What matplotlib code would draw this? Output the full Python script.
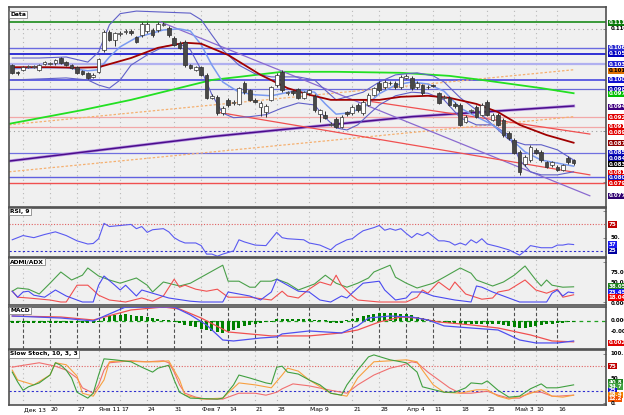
import numpy as np
import matplotlib.pyplot as plt
from matplotlib import transforms

# ---------------- data (bar index = trading day) ----------------
tick_pos = [2, 7, 12, 16, 20, 25, 30, 35, 40, 45, 49, 55, 63, 68, 73, 78, 83, 88, 93, 97, 101]
tick_lab = ["Дек 13", "20", "27", "Янв 11", "17", "24", "31", "Фев 7", "14", "21", "28",
            "Мар 9", "21", "28", "Апр 4", "11", "18", "25", "Май 3", "10", "16"]

opens = [0.1029, 0.1016, 0.1020, 0.1025, 0.1025, 0.1020, 0.1031, 0.1031, 0.1033, 0.1043,
         0.1035, 0.1029, 0.1025, 0.1018, 0.1014, 0.1006, 0.1016, 0.1059, 0.1094, 0.1079,
         0.1090, 0.1094, 0.1096, 0.1084, 0.1088, 0.1096, 0.1098, 0.1098, 0.1108, 0.1102,
         0.1083, 0.1073, 0.1075, 0.1029, 0.1020, 0.1025, 0.1010, 0.0965, 0.0967, 0.0935,
         0.0961, 0.0955, 0.0953, 0.0994, 0.0980, 0.0961, 0.0947, 0.0937, 0.0961, 0.0990,
         0.1016, 0.0974, 0.0978, 0.0982, 0.0965, 0.0974, 0.0969, 0.0933, 0.0932, 0.0912,
         0.0924, 0.0908, 0.0937, 0.0935, 0.0951, 0.0935, 0.0951, 0.0971, 0.0994, 0.0986,
         0.0994, 0.0994, 0.0986, 0.1004, 0.1004, 0.0986, 0.0990, 0.0986, 0.0990, 0.0974,
         0.0965, 0.0965, 0.0953, 0.0951, 0.0918, 0.0939, 0.0947, 0.0932, 0.0957, 0.0922,
         0.0932, 0.0922, 0.0896, 0.0883, 0.0859, 0.0835, 0.0843, 0.0863, 0.0859, 0.0839,
         0.0833, 0.0830, 0.0824, 0.0847, 0.0843]
closes = [0.1014, 0.1014, 0.1025, 0.1027, 0.1027, 0.1029, 0.1035, 0.1033, 0.1039, 0.1033,
          0.1029, 0.1024, 0.1014, 0.1012, 0.1004, 0.1010, 0.1041, 0.1094, 0.1079, 0.1092,
          0.1092, 0.1095, 0.1092, 0.1075, 0.1110, 0.1110, 0.1088, 0.1110, 0.1110, 0.1088,
          0.1069, 0.1063, 0.1029, 0.1024, 0.1025, 0.1010, 0.0965, 0.0969, 0.0935, 0.0945,
          0.0951, 0.0957, 0.0984, 0.0976, 0.0961, 0.0957, 0.0955, 0.0949, 0.0986, 0.1010,
          0.0980, 0.0976, 0.0974, 0.0965, 0.0976, 0.0980, 0.0941, 0.0941, 0.0926, 0.0914,
          0.0908, 0.0928, 0.0933, 0.0947, 0.0941, 0.0957, 0.0971, 0.0984, 0.0980, 0.0996,
          0.0995, 0.0986, 0.1006, 0.1008, 0.0984, 0.0994, 0.0974, 0.0987, 0.0989, 0.0955,
          0.0967, 0.0951, 0.0949, 0.0912, 0.0928, 0.0941, 0.0928, 0.0951, 0.0932, 0.0932,
          0.0912, 0.0892, 0.0886, 0.0857, 0.0820, 0.0849, 0.0869, 0.0857, 0.0843, 0.0830,
          0.0839, 0.0824, 0.0833, 0.0839, 0.0837]
# wick lengths in 0.0001
wick_up = [2, 2, 2, 2, 2, 3, 2, 2, 3, 2, 2, 2, 2, 2, 2, 3, 3, 4, 3, 2,
           3, 5, 3, 3, 4, 3, 3, 4, 3, 3, 3, 3, 3, 3, 2, 2, 3, 3, 3, 4,
           4, 4, 3, 3, 3, 3, 3, 3, 3, 4, 3, 3, 3, 3, 3, 3, 4, 3, 8, 3,
           3, 3, 3, 4, 3, 3, 3, 3, 3, 3, 3, 3, 3, 3, 3, 3, 3, 3, 3, 3,
           3, 3, 3, 3, 3, 3, 3, 3, 3, 3, 3, 3, 3, 3, 3, 3, 3, 3, 3, 3,
           3, 3, 3, 3, 3]
wick_dn = [2, 4, 2, 2, 2, 3, 2, 2, 3, 2, 2, 2, 2, 2, 2, 3, 3, 4, 3, 12,
           3, 4, 3, 3, 4, 3, 3, 4, 3, 3, 3, 3, 3, 3, 2, 2, 3, 3, 3, 4,
           4, 4, 3, 3, 3, 3, 18, 10, 3, 4, 3, 3, 3, 3, 3, 3, 4, 16, 3, 3,
           3, 3, 3, 4, 3, 3, 3, 3, 3, 3, 3, 3, 3, 3, 3, 3, 3, 3, 3, 3,
           3, 3, 3, 3, 3, 3, 3, 3, 3, 3, 3, 3, 3, 3, 6, 3, 3, 3, 3, 3,
           3, 3, 3, 3, 3]

bb_up_x = [0, 5, 10, 14, 16, 18, 20, 23, 28, 33, 35, 37, 39, 42, 45, 48, 53, 56, 58, 60,
           62, 65, 68, 71, 75, 78, 80, 83, 86, 89, 92, 95, 98, 101, 104]
bb_up = [0.1043, 0.1043, 0.1045, 0.1035, 0.1055, 0.1108, 0.1130, 0.1135, 0.1133, 0.1131,
         0.1118, 0.1088, 0.1059, 0.1029, 0.1012, 0.1006, 0.1006, 0.1000, 0.0980, 0.0961,
         0.0967, 0.0976, 0.0996, 0.1010, 0.1014, 0.1008, 0.0996, 0.0965, 0.0941, 0.0912,
         0.0883, 0.0873, 0.0873, 0.0863, 0.0843]
bb_lo_x = [0, 5, 10, 14, 16, 18, 20, 22, 25, 28, 31, 33, 35, 37, 39, 41, 44, 47, 50, 53,
           56, 58, 60, 62, 64, 66, 68, 71, 74, 77, 80, 83, 86, 89, 92, 94, 96, 98, 101, 104]
bb_lo = [0.1000, 0.1002, 0.1004, 0.1000, 0.0990, 0.0984, 0.1000, 0.1029, 0.1049, 0.1065,
         0.1071, 0.1059, 0.1020, 0.0971, 0.0935, 0.0926, 0.0928, 0.0932, 0.0945, 0.0955,
         0.0951, 0.0926, 0.0906, 0.0902, 0.0912, 0.0932, 0.0951, 0.0969, 0.0976, 0.0974,
         0.0961, 0.0926, 0.0912, 0.0912, 0.0892, 0.0843, 0.0820, 0.0814, 0.0814, 0.0820]
bb_mid_x = [0, 5, 10, 14, 16, 18, 20, 23, 28, 31, 33, 35, 37, 39, 42, 45, 48, 53, 56, 58,
            60, 62, 65, 68, 71, 74, 77, 80, 83, 86, 89, 92, 95, 98, 101, 104]
bb_mid = [0.1022, 0.1024, 0.1024, 0.1018, 0.1020, 0.1045, 0.1065, 0.1083, 0.1098, 0.1100,
          0.1096, 0.1069, 0.1029, 0.0996, 0.0976, 0.0971, 0.0969, 0.0980, 0.0976, 0.0953,
          0.0933, 0.0935, 0.0945, 0.0973, 0.0990, 0.0996, 0.0992, 0.0978, 0.0945, 0.0928,
          0.0912, 0.0888, 0.0859, 0.0843, 0.0837, 0.0831]

ma_red_x = [0, 7, 12, 16, 22, 27, 32, 35, 40, 46, 51, 55, 59, 64, 68, 72, 77, 81, 86, 90, 94, 99, 104]
ma_red = [0.1025, 0.1025, 0.1024, 0.1025, 0.1043, 0.1063, 0.1073, 0.1071, 0.1049, 0.1010,
          0.0984, 0.0971, 0.0961, 0.0961, 0.0961, 0.0967, 0.0969, 0.0965, 0.0953, 0.0937,
          0.0912, 0.0892, 0.0877]
ma_green_x = [-0.6, 13, 22, 37, 42, 50, 60, 72, 81, 87, 98, 104]
ma_green = [0.0914, 0.0941, 0.0961, 0.1000, 0.1006, 0.1016, 0.1016, 0.1014, 0.1008, 0.1000, 0.0984, 0.0974]
ma_purple_x = [-0.6, 37, 74, 104]
ma_purple = [0.0841, 0.0889, 0.0928, 0.0949]

fibo_x = [-0.6, 104]
orange_a = [0.0912, 0.1020]
orange_b = [0.0820, 0.0928]
purple_tl_x = [27.4, 107]
purple_tl = [0.1114, 0.0773]
red_tl1_x = [38.5, 107]
red_tl1 = [0.0936, 0.0814]
red_tl2_x = [64.4, 107]
red_tl2 = [0.0961, 0.0894]

hlines = [(0.1114, "#1a8a1a", 1.2), (0.1063, "#6a6ae0", 1.0), (0.1051, "#1010d0", 1.2),
          (0.1031, "#b0b0f0", 1.6), (0.1000, "#4848e0", 1.2), (0.0982, "#6a6ad8", 0.9),
          (0.0928, "#f2a8a8", 0.9), (0.0908, "#f2a8a8", 0.9), (0.0857, "#7070e0", 0.9),
          (0.0810, "#6060e0", 1.0), (0.0798, "#f05050", 1.0)]
price_tags = [(0.1112, "0.111", "#0a7a0a", "white"), (0.1063, "0.106", "#2a2ad0", "white"),
              (0.1051, "0.105", "#0000c0", "white"), (0.1031, "0.103", "#2020d0", "white"),
              (0.1018, "0.101", "#e07000", "black"), (0.1000, "0.100", "#1010d0", "white"),
              (0.0982, "0.098", "#0000b0", "white"), (0.0973, "0.097", "#00c000", "white"),
              (0.0947, "0.094", "#400080", "white"), (0.0927, "0.092", "#e00000", "white"),
              (0.0908, "0.091", "#e00000", "white"), (0.0898, "0.089", "#e00000", "white"),
              (0.0876, "0.087", "#900000", "white"), (0.0857, "0.085", "#1010c0", "white"),
              (0.0847, "0.084", "#0000a0", "white"), (0.0835, "0.083", "#000000", "white"),
              (0.0818, "0.081", "#e00000", "white"), (0.0808, "0.080", "#1010c0", "white"),
              (0.0798, "0.079", "#e00000", "white"), (0.0773, "0.077", "#300070", "white")]

rsi_x = [0, 2, 4, 6, 8, 10, 12, 14, 15, 16, 17, 18, 20, 22, 23, 24, 25, 26, 28, 29,
         30, 31, 32, 34, 35, 36, 37, 38, 39, 41, 42, 43, 45, 47, 49, 50, 51, 54, 55, 57,
         59, 60, 62, 63, 64, 65, 67, 68, 69, 70, 71, 72, 73, 74, 75, 76, 77, 79, 80, 81,
         82, 83, 84, 85, 86, 87, 88, 90, 92, 94, 95, 96, 98, 100, 101, 102, 103, 104]
rsi = [46, 54, 50, 56, 61, 54, 44, 38, 39, 48, 77, 71, 73, 75, 67, 71, 60, 65, 67, 61,
       50, 44, 40, 40, 35, 19, 19, 15, 19, 25, 46, 42, 36, 35, 60, 50, 48, 46, 40, 36,
       27, 36, 46, 48, 56, 63, 69, 73, 64, 67, 64, 67, 58, 50, 58, 54, 60, 44, 44, 42,
       36, 40, 36, 46, 40, 48, 38, 33, 27, 17, 25, 35, 31, 31, 36, 36, 38, 37]

adx_g_x = [0, 1, 3, 5, 7, 9, 11, 13, 14, 16, 18, 20, 23, 25, 26, 28, 31, 33, 35, 37, 39,
           40, 42, 44, 45, 46, 48, 49, 51, 53, 54, 56, 58, 60, 62, 64, 66, 67, 70, 71, 73,
           75, 78, 80, 83, 85, 86, 89, 91, 93, 95, 97, 98, 99, 100, 102, 104]
adx_g = [27, 35, 32, 20, 47, 75, 55, 67, 85, 65, 55, 47, 60, 42, 25, 50, 40, 47, 62, 77, 92,
         52, 52, 37, 37, 52, 52, 57, 47, 30, 35, 45, 67, 47, 37, 47, 60, 75, 92, 62, 47,
         35, 47, 62, 85, 72, 55, 40, 50, 67, 90, 55, 40, 55, 42, 37, 38]
adx_b_x = [0, 1, 2, 3, 4, 6, 8, 10, 13, 15, 16, 17, 19, 20, 21, 23, 24, 26, 29, 33, 35,
           39, 40, 44, 46, 48, 49, 51, 53, 55, 57, 59, 61, 62, 64, 65, 68, 69, 71, 73, 74,
           76, 78, 82, 85, 86, 87, 89, 91, 94, 99, 100, 101, 102, 103, 104]
adx_b = [27, 12, 25, 27, 17, 12, 30, 15, 0, 0, 42, 65, 42, 30, 42, 15, 30, 22, 10, 2, 0,
         0, 25, 15, 5, 25, 57, 42, 27, 25, 5, 0, 15, 10, 35, 47, 52, 30, 5, 10, 25,
         25, 15, 5, 0, 40, 37, 25, 15, 0, 0, 22, 30, 15, 25, 23]
adx_r_x = [0, 1, 3, 7, 9, 10, 12, 14, 15, 16, 18, 21, 24, 26, 28, 30, 31, 32, 34, 36,
           38, 40, 44, 48, 50, 51, 53, 55, 57, 59, 60, 61, 63, 64, 68, 73, 75, 76, 77, 79,
           81, 82, 84, 87, 89, 90, 92, 95, 97, 99, 101, 102, 104]
adx_r = [27, 12, 10, 5, 0, 0, 42, 42, 30, 17, 5, 0, 10, 2, 15, 57, 37, 42, 32, 27,
         32, 12, 12, 5, 27, 15, 10, 32, 50, 42, 67, 42, 15, 5, 0, 0, 12, 30, 22, 50,
         30, 50, 20, 7, 10, 25, 30, 55, 30, 22, 32, 12, 18]

macd_x = [0, 9, 15, 18, 21, 30, 33, 36, 39, 41, 46, 49, 50, 55, 61, 64, 66, 70, 74, 77,
          80, 85, 90, 92, 94, 97, 101, 104]
macd = [0.00045, 0.00027, 0.0, 0.00064, 0.00127, 0.00127, 0.00055, -0.00036, -0.00173,
        -0.00182, -0.00155, -0.00145, -0.00118, -0.00091, -0.00109, -0.00045, 0.00027,
        0.00045, 0.00036, 0.00009, -0.00045, -0.00064, -0.00082, -0.00127, -0.00173,
        -0.002, -0.002, -0.00182]
signal_x = [0, 9, 15, 22, 28, 31, 35, 40, 48, 55, 61, 64, 68, 72, 75, 79, 85, 90, 96, 100, 104]
signal = [0.00045, 0.00036, 0.00009, 0.001, 0.00127, 0.00109, 0.00027, -0.001, -0.00136,
          -0.00136, -0.00109, -0.00082, -0.00009, 0.00036, 0.00027, -0.00009, -0.00036,
          -0.00064, -0.00127, -0.00182, -0.0019]
hist = [-2, -2, -2, -2, -2, -2, -2, -2, -2, -2, -2, -2, -2, -2, -2, -2, -1, 2.7, 4.5, 5,
        5.5, 6.4, 5.5, 4.5, 4.5, 3.6, 2.7, 1.8, 1, 0.5, -0.5, -2, -3.6, -4.5, -5.5, -7.3, -8.2, -9, -10, -10.9,
        -9, -8.2, -6.4, -4.5, -3.6, -2.7, -2, -1, -1, 2, 2, 2, 2, 2, 2, 2, 0.5, 0.5, 0.5, -2,
        -2, -2, 1, 2, 2.7, 4.5, 5.5, 6.4, 7.3, 7.3, 7.3, 7.3, 6.4, 6.4, 5.5, 3.6, 2.7, 1.8, 1, -1,
        -2, -2, -2.7, -2.7, -2.7, -2.7, -2.7, -2.7, -2.7, -2.7, -2.7, -3.6, -4.5, -5.5, -6.4, -6.4, -5.5, -4.5, -3.6, -2.7,
        -2.7, -2, -2, -1, -1]  # in 0.0001

st_g_x = [0, 1, 2, 3, 5, 7, 8, 9, 10, 11, 12, 14, 15, 16, 17, 19, 22, 24, 26, 27, 29, 30,
          31, 33, 38, 39, 41, 42, 44, 47, 48, 49, 50, 51, 53, 55, 57, 59, 61, 62, 64, 66,
          67, 70, 72, 73, 75, 76, 80, 82, 84, 85, 87, 88, 90, 92, 94, 96, 98, 99, 101, 102, 104]
st_g = [63, 43, 26, 33, 41, 57, 82, 77, 67, 51, 22, 10, 20, 57, 90, 88, 84, 73, 63, 71, 77, 47,
        22, 10, 8, 10, 37, 57, 51, 41, 39, 73, 75, 63, 59, 47, 37, 20, 16, 37, 67, 94,
        98, 88, 84, 82, 63, 33, 22, 22, 31, 41, 39, 45, 26, 12, 14, 29, 39, 31, 31, 33, 37]
st_o_x = [0, 1, 4, 7, 8, 10, 12, 13, 15, 17, 18, 20, 24, 27, 29, 31, 32, 35, 39, 42, 45,
          48, 50, 51, 53, 55, 59, 62, 64, 67, 70, 73, 75, 76, 78, 80, 83, 86, 88, 90, 92,
          95, 98, 100, 102, 104]
st_o = [67, 47, 37, 57, 82, 78, 55, 20, 14, 47, 84, 86, 84, 84, 86, 47, 16, 8, 10, 41, 37,
        31, 57, 71, 65, 47, 20, 14, 51, 84, 86, 88, 84, 67, 37, 22, 20, 27, 27, 14, 8,
        16, 27, 14, 12, 16]
st_r_x = [0, 1, 5, 8, 10, 12, 13, 15, 16, 17, 18, 22, 25, 28, 29, 30, 31, 32, 34, 36, 39,
          42, 45, 47, 49, 50, 52, 55, 59, 62, 64, 67, 70, 72, 74, 75, 77, 79, 81, 83, 85,
          88, 90, 92, 94, 96, 98, 100, 101, 104]
st_r = [73, 75, 82, 75, 67, 51, 31, 20, 37, 67, 82, 86, 84, 86, 82, 63, 37, 20, 12, 8, 8,
        20, 20, 16, 22, 29, 39, 35, 26, 20, 37, 57, 71, 76, 84, 82, 63, 47, 31, 20, 20,
        24, 16, 10, 10, 22, 22, 14, 14, 16]

# ---------------- figure ----------------
fig = plt.figure(figsize=(6.24, 4.15), dpi=100)
fig.patch.set_facecolor("white")
L, R = 9 / 624, 597 / 624
H = 415.0
panels = [(7, 207), (208, 257), (258, 305), (307, 349), (350, 405)]
axes = []
for top, bot in panels:
    ax = fig.add_axes([L, 1 - bot / H, R, (bot - top) / H])
    ax.set_facecolor("#f0f0f0")
    ax.set_xlim(-0.6, 110)
    for s in ax.spines.values():
        s.set_color("#505050")
        s.set_linewidth(1.2)
    ax.tick_params(left=False, labelleft=False, bottom=False, labelbottom=False,
                   right=True, labelright=False, direction="in", length=2, width=0.5,
                   colors="#606060")
    ax.set_xticks(tick_pos)
    ax.grid(axis="x", color="#b8b8b8", linestyle=(0, (1, 3)), linewidth=0.8)
    axes.append(ax)
ax0, ax1, ax2, ax3, ax4 = axes

tr_r = lambda ax: transforms.blended_transform_factory(ax.transAxes, ax.transData)


def tag(ax, v, txt, fc, tc="white"):
    ax.text(1.004, v, txt, transform=tr_r(ax), fontsize=4.0, color=tc, va="center",
            ha="left", fontweight="bold", clip_on=False,
            bbox=dict(boxstyle="square,pad=0.12", fc=fc, ec="none"))


def plain(ax, v, txt):
    ax.text(1.008, v, txt, transform=tr_r(ax), fontsize=4.0, color="black", va="center",
            ha="left", fontweight="bold", clip_on=False)


def title(ax, txt):
    ax.text(0.002, 0.975, txt, transform=ax.transAxes, fontsize=4.3, fontweight="bold",
            va="top", ha="left",
            bbox=dict(boxstyle="square,pad=0.2", fc="white", ec="#707070", lw=0.5))


# ---- main price panel
ax0.set_ylim(0.0751, 0.1143)
for v in [0.110, 0.090]:
    ax0.axhline(v, color="#a0a0a0", linestyle=(0, (1, 3)), lw=0.8)
for v, col, lw in hlines:
    ax0.axhline(v, color=col, lw=lw)
ax0.plot(fibo_x, orange_a, color="#f5b070", lw=0.9, linestyle=(0, (2, 1.5)))
ax0.plot(fibo_x, orange_b, color="#f5b070", lw=0.9, linestyle=(0, (2, 1.5)))
ax0.plot(ma_purple_x, ma_purple, color="#b898e0", lw=2.2)
ax0.plot(ma_purple_x, ma_purple, color="#4b0c8c", lw=1.1)
ax0.plot(ma_green_x, ma_green, color="#22e022", lw=1.3)
ax0.plot(purple_tl_x, purple_tl, color="#8a6ad0", lw=0.9)
ax0.plot(red_tl1_x, red_tl1, color="#f05050", lw=0.9)
ax0.plot(red_tl2_x, red_tl2, color="#f05050", lw=0.9)
ax0.plot(bb_up_x, bb_up, color="#6060c8", lw=0.8)
ax0.plot(bb_lo_x, bb_lo, color="#6060c8", lw=0.8)
ax0.plot(bb_mid_x, bb_mid, color="#7a9af0", lw=1.1)
ax0.plot(ma_red_x, ma_red, color="#a00000", lw=1.3)

o = np.array(opens)
c = np.array(closes)
hi = np.maximum(o, c) + np.array(wick_up) * 1e-4
lo = np.minimum(o, c) - np.array(wick_dn) * 1e-4
idx = np.arange(len(o))
ax0.vlines(idx, lo, hi, color="#303030", lw=0.7, zorder=4)
body = np.maximum(np.abs(c - o), 0.00008)
ax0.bar(idx, body, bottom=np.minimum(o, c), width=0.68,
        color=np.where(c >= o, "white", "#484848"), edgecolor="#303030", lw=0.5, zorder=5)
title(ax0, "Data")
plain(ax0, 0.110, "0.110")
for v, t, fc, tc in price_tags:
    tag(ax0, v, t, fc, tc)

# ---- RSI
ax1.set_ylim(13.5, 106)
ax1.axhline(75, color="#e06060", lw=0.8, linestyle=(0, (1, 1.5)))
ax1.axhline(25, color="#3030d0", lw=0.8, linestyle=(0, (2, 2)))
ax1.plot(rsi_x, rsi, color="#5a5af0", lw=0.8)
title(ax1, "RSI, 9")
tag(ax1, 75, "75", "#c00000")
plain(ax1, 50, "50.")
tag(ax1, 37, "37", "#1a1af0")
tag(ax1, 25, "25", "#0000a0")

# ---- ADMI / ADX
ax2.set_ylim(-7.5, 110)
ax2.plot(adx_g_x, adx_g, color="#4aa04a", lw=0.8)
ax2.plot(adx_r_x, adx_r, color="#f05050", lw=0.8)
ax2.plot(adx_b_x, adx_b, color="#4a4af0", lw=0.8)
title(ax2, "ADMI/ADX")
plain(ax2, 75, "75.000")
plain(ax2, 50, "50.000")
tag(ax2, 39, "38.050", "#208020")
tag(ax2, 24, "23.450", "#1a1af0")
tag(ax2, 11, "18.040", "#f00000")
plain(ax2, -3, "0.000")

# ---- MACD
ax3.set_ylim(-0.00255, 0.00127)
ax3.grid(axis="x", color="#505050", linestyle=(0, (3, 2)), linewidth=0.8)
ax3.axhline(0, color="#20a020", lw=0.9, linestyle=(0, (3, 3)))
hv = np.array(hist) * 1e-4
ax3.bar(idx, hv, width=0.55, color="#008000", zorder=3)
ax3.plot(signal_x, signal, color="#f05050", lw=0.9, zorder=4)
ax3.plot(macd_x, macd, color="#5050f0", lw=0.9, zorder=4)
title(ax3, "MACD")
plain(ax3, 0, "0.000")
plain(ax3, -0.001, "-0.001")
tag(ax3, -0.0020, "0.002", "#e00000")

# ---- Slow Stoch
ax4.set_ylim(-4, 108)
ax4.axhline(75, color="#e06060", lw=0.8, linestyle=(0, (1, 1.5)))
ax4.axhline(25, color="#3030d0", lw=0.8, linestyle=(0, (2, 2)))
ax4.plot(st_r_x, st_r, color="#f07070", lw=0.8)
ax4.plot(st_o_x, st_o, color="#f8a040", lw=0.8)
ax4.plot(st_g_x, st_g, color="#40a040", lw=0.8)
title(ax4, "Slow Stoch, 10, 3, 3")
plain(ax4, 100, "100.")
tag(ax4, 75, "75", "#c00000")
plain(ax4, 50, "50")
tag(ax4, 41.5, "40.8", "#208020")
tag(ax4, 33.5, "34.7", "#40a040")
tag(ax4, 25, "25", "#1010d0")
tag(ax4, 16.5, "18.4", "#f08000")
tag(ax4, 8.5, "12.2", "#f05000")
plain(ax4, 0, "0.")

# x labels drawn on a common baseline
tr_x = transforms.blended_transform_factory(ax4.transData, ax4.transAxes)
for p, t in zip(tick_pos, tick_lab):
    ax4.text(p + 0.15, -0.115, t, transform=tr_x, fontsize=4.4, ha="left",
             va="baseline", clip_on=False)

fig.savefig("out.png", dpi=100, facecolor="white")
